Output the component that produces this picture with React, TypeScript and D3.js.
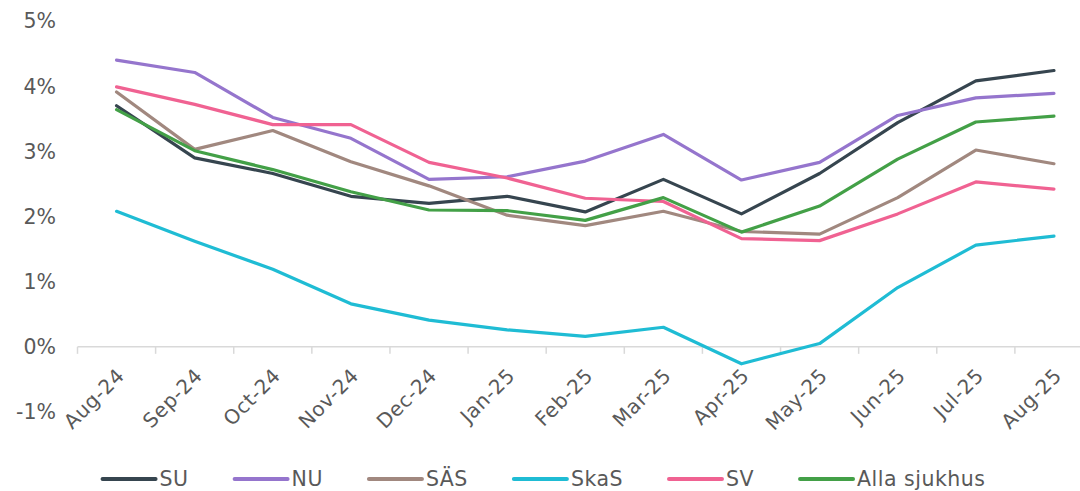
import * as d3 from "d3";
import { useEffect, useRef } from "react";

const months = [
  "Aug-24", "Sep-24", "Oct-24", "Nov-24", "Dec-24", "Jan-25", "Feb-25",
  "Mar-25", "Apr-25", "May-25", "Jun-25", "Jul-25", "Aug-25",
];

const su = [3.7, 2.9, 2.66, 2.31, 2.2, 2.31, 2.07, 2.57, 2.04, 2.66, 3.44, 4.08, 4.24];
const nu = [4.4, 4.21, 3.52, 3.2, 2.57, 2.61, 2.85, 3.26, 2.56, 2.83, 3.55, 3.82, 3.89];
const sas = [3.91, 3.03, 3.32, 2.84, 2.47, 2.02, 1.86, 2.08, 1.77, 1.73, 2.29, 3.02, 2.81];
const skas = [2.08, 1.62, 1.19, 0.66, 0.41, 0.26, 0.16, 0.3, -0.26, 0.05, 0.91, 1.56, 1.7];
const sv = [3.99, 3.72, 3.41, 3.41, 2.83, 2.59, 2.28, 2.23, 1.66, 1.63, 2.04, 2.53, 2.42];
const alla = [3.64, 3.01, 2.72, 2.38, 2.1, 2.09, 1.94, 2.29, 1.76, 2.16, 2.88, 3.45, 3.54];

const seriesNames = ["SU", "NU", "SÄS", "SkaS", "SV", "Alla sjukhus"];
const seriesValues = [su, nu, sas, skas, sv, alla];
const seriesColors = ["#36454f", "#9575cd", "#a1887f", "#1fbcd4", "#f06292", "#43a047"];

const yTicks = [-1, 0, 1, 2, 3, 4, 5];

const App = () => {
  const ref = useRef<SVGSVGElement | null>(null);

  useEffect(() => {
    const svg = d3.select(ref.current);
    svg.selectAll("*").remove();

    const width = 1080;
    const font = "Verdana, 'DejaVu Sans', sans-serif";
    const textColor = "#595959";

    const x = d3.scaleBand().domain(months).range([77.5, 1093]);
    const y = d3.scaleLinear().domain([-1, 5]).range([412, 21]);

    // y labels
    svg
      .append("g")
      .selectAll("text")
      .data(yTicks)
      .join("text")
      .attr("x", 56)
      .attr("y", (d) => y(d))
      .attr("dy", "0.36em")
      .attr("text-anchor", "end")
      .attr("font-family", font)
      .attr("font-size", 20.5)
      .attr("fill", textColor)
      .text((d) => `${d}%`);

    // x axis line + ticks at band edges
    const axis = svg.append("g");
    axis
      .append("line")
      .attr("x1", x.range()[0])
      .attr("x2", x.range()[1])
      .attr("y1", y(0))
      .attr("y2", y(0))
      .attr("stroke", "#d9d9d9")
      .attr("stroke-width", 1.5);
    axis
      .selectAll("line.tick")
      .data(months)
      .join("line")
      .attr("class", "tick")
      .attr("x1", (d) => x(d)!)
      .attr("x2", (d) => x(d)!)
      .attr("y1", y(0))
      .attr("y2", y(0) + 7)
      .attr("stroke", "#d9d9d9")
      .attr("stroke-width", 1.5);

    axis
      .selectAll("text")
      .data(months)
      .join("text")
      .attr(
        "transform",
        (d) => `translate(${x(d)! + x.bandwidth() / 2 + 9},${y(0) + 30}) rotate(-45)`
      )
      .attr("text-anchor", "end")
      .attr("font-family", font)
      .attr("font-size", 20)
      .attr("letter-spacing", 0.6)
      .attr("fill", textColor)
      .text((d) => d);

    // lines
    const line = d3
      .line<number>()
      .x((_, i) => x(months[i])! + x.bandwidth() / 2)
      .y((d) => y(d));

    svg
      .append("g")
      .selectAll("path")
      .data(seriesValues)
      .join("path")
      .attr("fill", "none")
      .attr("stroke", (_, i) => seriesColors[i])
      .attr("stroke-width", 3.2)
      .attr("stroke-linejoin", "round")
      .attr("stroke-linecap", "round")
      .attr("d", (d) => line(d));

    // legend
    const legend = svg.append("g");
    const items = legend
      .selectAll("g")
      .data(seriesNames)
      .join("g");
    items
      .append("line")
      .attr("x1", 0)
      .attr("x2", 53)
      .attr("y1", 0)
      .attr("y2", 0)
      .attr("stroke", (_, i) => seriesColors[i])
      .attr("stroke-width", 4)
      .attr("stroke-linecap", "round");
    items
      .append("text")
      .attr("x", 57)
      .attr("dy", "0.36em")
      .attr("font-family", font)
      .attr("font-size", 20.5)
      .attr("letter-spacing", 0.5)
      .attr("fill", textColor)
      .text((d) => d);

    let offset = 0;
    const widths: number[] = [];
    items.each(function () {
      const t = d3.select(this).select("text").node() as SVGTextElement;
      widths.push(57 + t.getComputedTextLength());
    });
    const gap = 46;
    const total = d3.sum(widths) + gap * (widths.length - 1);
    const start = (width - total) / 2 + 4;
    items.attr("transform", (_, i) => {
      const tx = start + offset;
      offset += widths[i] + gap;
      return `translate(${tx},479)`;
    });
  }, []);

  return (
    <svg
      ref={ref}
      width={1080}
      height={491}
      style={{ position: "absolute", left: 0, top: 0, background: "#fff" }}
    ></svg>
  );
};

export default App;
